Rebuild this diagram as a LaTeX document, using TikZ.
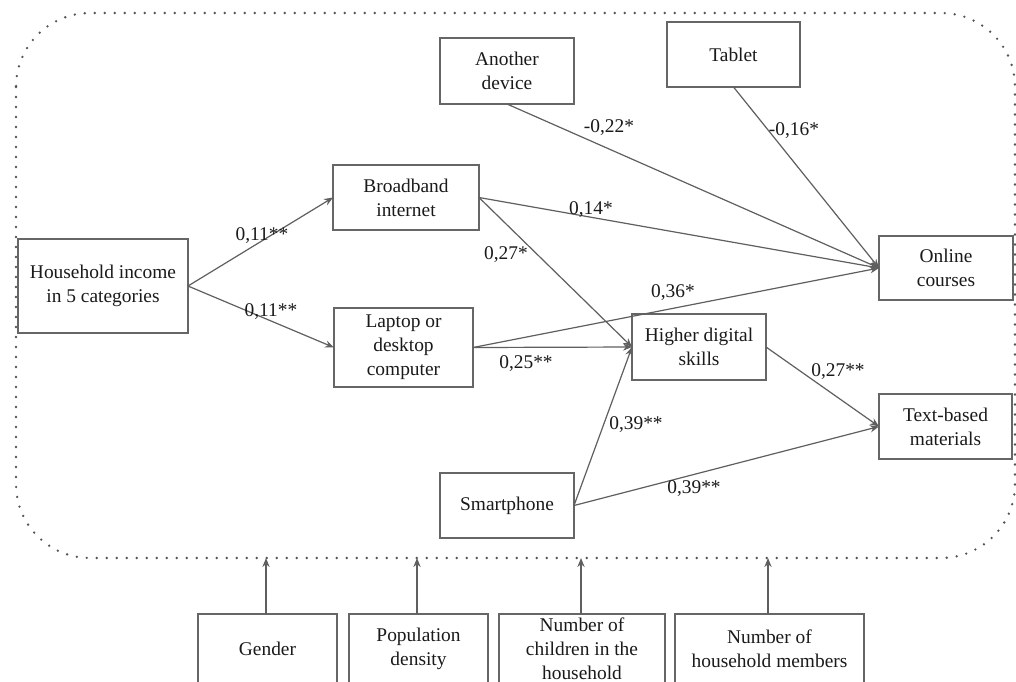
\documentclass[tikz,border=0pt]{standalone}
\usepackage{fontspec}
\setmainfont{Liberation Serif}
\usetikzlibrary{arrows.meta}
\definecolor{boxline}{HTML}{666666}
\definecolor{arrline}{HTML}{5F5F5F}
\definecolor{dotc}{HTML}{555555}
\definecolor{txt}{HTML}{1A1A1A}
\tikzset{
  box/.style={draw=boxline, line width=0.6pt, rectangle, inner sep=0pt, outer sep=0pt,
    align=center, text=txt, font=\fontsize{9.7}{12}\selectfont},
  lbl/.style={inner sep=0pt, text=txt, font=\fontsize{9.7}{12}\selectfont},
  arr/.style={draw=arrline, line width=0.6pt, -{Stealth[length=4.5pt,width=3.6pt]}},
  frame/.style={draw=dotc, line width=1.3pt, line cap=round, dash pattern=on 0pt off 5pt, rounded corners=37pt}
}
\begin{document}
\begin{tikzpicture}[x=0.5pt,y=-0.5pt]
\useasboundingbox (0,0) rectangle (1016,681);
\fill[white] (0,0) rectangle (1016,681);
% dotted frame
\draw[frame] (16,13) rectangle (1015,558);
\coordinate (f1) at (266,558);
\coordinate (f2) at (417,558);
\coordinate (f3) at (581,558);
\coordinate (f4) at (768,558);
% nodes
\node[box, minimum width=85pt, minimum height=47pt] (inc) at (103,286) {Household income\\in 5 categories};
\node[box, minimum width=73pt, minimum height=32.5pt] (bb) at (406,197.5) {Broadband\\internet};
\node[box, minimum width=69.5pt, minimum height=39.5pt] (lap) at (403.5,347.5) {Laptop or\\desktop\\computer};
\node[box, minimum width=67pt, minimum height=33pt] (ano) at (507,71) {Another\\device};
\node[box, minimum width=66.5pt, minimum height=32.5pt] (tab) at (733.5,54.5) {Tablet};
\node[box, minimum width=67pt, minimum height=32pt] (onl) at (946,268) {Online\\courses};
\node[box, minimum width=67pt, minimum height=33pt] (hds) at (699,347) {Higher digital\\skills};
\node[box, minimum width=66.5pt, minimum height=32.5pt] (tbm) at (945.5,426.5) {Text-based\\materials};
\node[box, minimum width=67pt, minimum height=32.5pt] (sma) at (507,505.5) {Smartphone};
\node[box, minimum width=69.5pt, minimum height=35pt] (gen) at (267.5,649) {Gender};
\node[box, minimum width=69.5pt, minimum height=35pt] (pop) at (418.5,649) {Population\\density};
\node[box, minimum width=83pt, minimum height=35pt] (chi) at (582,649) {Number of\\children in the\\household};
\node[box, minimum width=94.5pt, minimum height=35pt] (mem) at (769.5,649) {Number of\\household members};
% connectors
\draw[arr] (inc.east) -- (bb.west);
\draw[arr] (inc.east) -- (lap.west);
\draw[arr] (bb.east) -- (onl.west);
\draw[arr] (bb.east) -- (hds.west);
\draw[arr] (lap.east) -- (onl.west);
\draw[arr] (lap.east) -- (hds.west);
\draw[arr] (ano.south) -- (onl.west);
\draw[arr] (tab.south) -- (onl.west);
\draw[arr] (sma.east) -- (hds.west);
\draw[arr] (sma.east) -- (tbm.west);
\draw[arr] (hds.east) -- (tbm.west);
\draw[arr] (gen.north -| f1) -- (f1);
\draw[arr] (pop.north -| f2) -- (f2);
\draw[arr] (chi.north -| f3) -- (f3);
\draw[arr] (mem.north -| f4) -- (f4);
% labels
\node[lbl] (l1) at (262,236) {0,11**};
\node[lbl] (l2) at (271,312) {0,11**};
\node[lbl] (l3) at (609,128) {-0,22*};
\node[lbl] (l4) at (794,131) {-0,16*};
\node[lbl] (l5) at (591,210) {0,14*};
\node[lbl] (l6) at (506,255) {0,27*};
\node[lbl] (l7) at (673,293) {0,36*};
\node[lbl] (l8) at (526,364) {0,25**};
\node[lbl] (l9) at (636,425) {0,39**};
\node[lbl] (l10) at (694,489) {0,39**};
\node[lbl] (l11) at (838,372) {0,27**};
\end{tikzpicture}
\end{document}
